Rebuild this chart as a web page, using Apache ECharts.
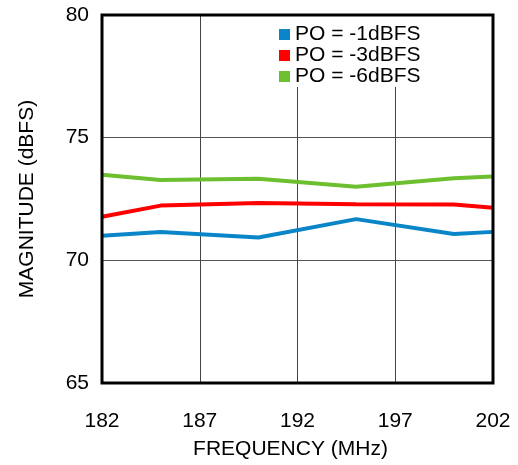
<!DOCTYPE html>
<html><head><meta charset="utf-8">
<script src="https://cdn.jsdelivr.net/npm/echarts@6/dist/echarts.min.js"></script>
<style>html,body{margin:0;padding:0;background:#fff}#c{width:518px;height:465px}</style>
</head><body><div id="c"></div>
<script>
const freqs = [182, 185, 190, 195, 200, 202];
const po1 = [71.0, 71.15, 70.93, 71.68, 71.07, 71.16];
const po3 = [71.78, 72.23, 72.34, 72.29, 72.28, 72.14];
const po6 = [73.49, 73.27, 73.33, 73.0, 73.35, 73.42];
const seriesNames = ['PO = -1dBFS', 'PO = -3dBFS', 'PO = -6dBFS'];
const colors = ['#0a86c8', '#ff0000', '#6cbf2e'];
const xTicks = [182, 187, 192, 197, 202];
const yTicks = [65, 70, 75, 80];

const font = 'Liberation Sans, Arial, sans-serif';
const chart = echarts.init(document.getElementById('c'), null, {renderer: 'canvas'});
const mk = (arr) => freqs.map((f, i) => [f, arr[i]]);
chart.setOption({
  animation: false,
  backgroundColor: '#fff',
  grid: {left: 102, right: 25, top: 15, bottom: 76, show: true, borderColor: '#000', borderWidth: 3, z: 10},
  legend: {
    orient: 'vertical', left: 276, top: 15,
    padding: [9, 6, 0, 3],
    backgroundColor: '#fff',
    itemWidth: 11, itemHeight: 11, itemGap: 0,
    icon: 'rect',
    textStyle: {fontFamily: font, fontSize: 21, color: '#000', lineHeight: 19},
    data: seriesNames
  },
  xAxis: {
    type: 'value', min: xTicks[0], max: xTicks[xTicks.length - 1], interval: 5,
    name: 'FREQUENCY (MHz)', nameLocation: 'middle', nameGap: 56,
    nameTextStyle: {fontFamily: font, fontSize: 21, color: '#000', padding: [0, 14, 0, 0]},
    axisLine: {show: false}, axisTick: {show: false},
    axisLabel: {margin: 28, fontFamily: font, fontSize: 21, color: '#000'},
    splitLine: {show: true, lineStyle: {color: '#444', width: 1}}
  },
  yAxis: {
    type: 'value', min: yTicks[0], max: yTicks[yTicks.length - 1], interval: 5,
    name: 'MAGNITUDE (dBFS)', nameLocation: 'middle', nameGap: 64,
    nameTextStyle: {fontFamily: font, fontSize: 21, color: '#000'},
    axisLine: {show: false}, axisTick: {show: false},
    axisLabel: {margin: 13, fontFamily: font, fontSize: 21, color: '#000'},
    splitLine: {show: true, lineStyle: {color: '#555', width: 1}}
  },
  series: [po1, po3, po6].map((d, i) => ({
    name: seriesNames[i], type: 'line', data: mk(d),
    showSymbol: false, symbol: 'none',
    lineStyle: {width: 4, color: colors[i]}, itemStyle: {color: colors[i]},
    z: 3
  }))
});
</script></body></html>
